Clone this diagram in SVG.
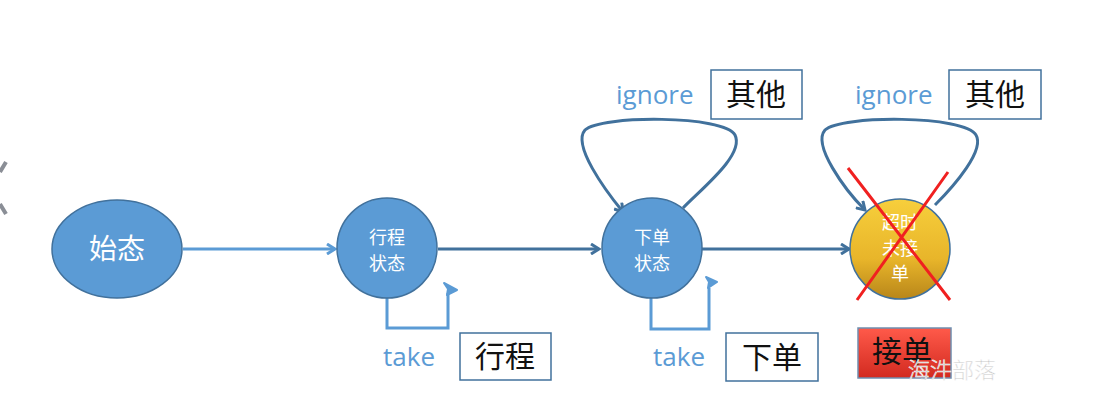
<svg xmlns="http://www.w3.org/2000/svg" width="1102" height="416" viewBox="0 0 1102 416">
<style>
.node{fill:#5b9bd5;stroke:#41719c;stroke-width:1.5}
.nt{fill:#fff;font-family:"Noto Sans CJK SC",sans-serif;text-anchor:middle}
.lbl{fill:#5b9bd5;font-family:"Open Sans","Liberation Sans",sans-serif;font-size:26px;font-weight:500}
.box{fill:#fff;stroke:#41719c;stroke-width:1.5}
.bt{fill:#111;font-family:"Noto Sans CJK SC",sans-serif;font-size:30px;text-anchor:middle}
.c1{fill:none;stroke:#5b9bd5;stroke-width:3}
.c2{fill:none;stroke:#41719c;stroke-width:3}
.th{fill:#5b9bd5;stroke:#5b9bd5;stroke-width:2;stroke-linejoin:round}
</style>
<defs>
<marker id="a1" markerWidth="12" markerHeight="12" refX="10" refY="6" orient="auto" markerUnits="userSpaceOnUse"><path d="M2,1 L10,6 L2,11" fill="none" stroke="#5b9bd5" stroke-width="3"/></marker>
<marker id="a2" markerWidth="12" markerHeight="12" refX="10" refY="6" orient="auto" markerUnits="userSpaceOnUse"><path d="M2,1 L10,6 L2,11" fill="none" stroke="#41719c" stroke-width="3"/></marker>
<linearGradient id="gold" x1="0" y1="0" x2="0" y2="1"><stop offset="0" stop-color="#f7cf3c"/><stop offset="0.6" stop-color="#e8b52a"/><stop offset="1" stop-color="#b8861a"/></linearGradient>
<linearGradient id="red" x1="0" y1="0" x2="0" y2="1"><stop offset="0" stop-color="#ff5a4a"/><stop offset="1" stop-color="#d22a20"/></linearGradient>
</defs>
<path d="M6,162 L0,172 M0,204 L6,214" stroke="#8a8e96" stroke-width="4" fill="none"/>
<g id="connectors">
<path class="c1" d="M183,249 L335,249" marker-end="url(#a1)"/>
<path class="c2" d="M438,249 L599,249" marker-end="url(#a2)"/>
<path class="c2" d="M702,249 L849,249" marker-end="url(#a2)"/>
<path class="c1" d="M387,298 L387,328 L448,328 L448,293"/>
<path class="th" d="M444,283 L457,290 L447,295 L448,289 Z"/>
<path class="c1" d="M651,297 L651,329 L709,329 L709,288"/>
<path class="th" d="M706,277 L717,282 L708,288 L709,282 Z"/>
<path class="c2" d="M683,208 C700,190 745,155 735,135 C725,115 600,115 585,130 C572,145 605,190 623,212" marker-end="url(#a2)"/>
<path class="c2" d="M935,205 C955,185 985,150 976,135 C965,115 840,115 825,130 C812,145 845,190 865,210" marker-end="url(#a2)"/>
</g>
<g id="start"><ellipse class="node" cx="117" cy="249" rx="65" ry="49"/><text class="nt" x="117" y="259" font-size="28">始态</text></g>
<g id="trip"><circle class="node" cx="387" cy="248" r="50"/><text class="nt" x="387" y="244" font-size="18">行程</text><text class="nt" x="387" y="270" font-size="18">状态</text></g>
<g id="order"><circle class="node" cx="652" cy="248" r="50"/><text class="nt" x="652" y="244" font-size="18">下单</text><text class="nt" x="652" y="270" font-size="18">状态</text></g>
<g id="timeout"><circle cx="900" cy="249" r="50" fill="url(#gold)" stroke="#41719c" stroke-width="1.5"/><text class="nt" x="900" y="229" font-size="18">超时</text><text class="nt" x="900" y="255" font-size="18">未接</text><text class="nt" x="900" y="280" font-size="18">单</text>
<path d="M848,168 L950,300 M948,172 L857,300" stroke="#f02020" stroke-width="3" fill="none"/></g>
<g id="lbl-take1"><text class="lbl" x="383" y="366">take</text><rect class="box" x="460" y="333" width="91" height="47"/><text class="bt" x="505" y="367">行程</text></g>
<g id="lbl-take2"><text class="lbl" x="653" y="366">take</text><rect class="box" x="726" y="333" width="92" height="48"/><text class="bt" x="772" y="368">下单</text></g>
<g id="lbl-ign1"><text class="lbl" x="616" y="104">ignore</text><rect class="box" x="711" y="70" width="91" height="49"/><text class="bt" x="756" y="105">其他</text></g>
<g id="lbl-ign2"><text class="lbl" x="855" y="104">ignore</text><rect class="box" x="949" y="70" width="92" height="49"/><text class="bt" x="995" y="105">其他</text></g>
<g id="accept"><rect x="858" y="328" width="93" height="50" fill="url(#red)" stroke="#6f8fb0" stroke-width="1.5"/><text class="bt" x="902" y="362" font-size="28">接单</text></g>
<text x="908" y="378" font-family="Noto Sans CJK SC,sans-serif" font-size="22" font-weight="300" fill="#b4b4b4" stroke="#fff" stroke-width="0.5">海汼部落</text>
</svg>
